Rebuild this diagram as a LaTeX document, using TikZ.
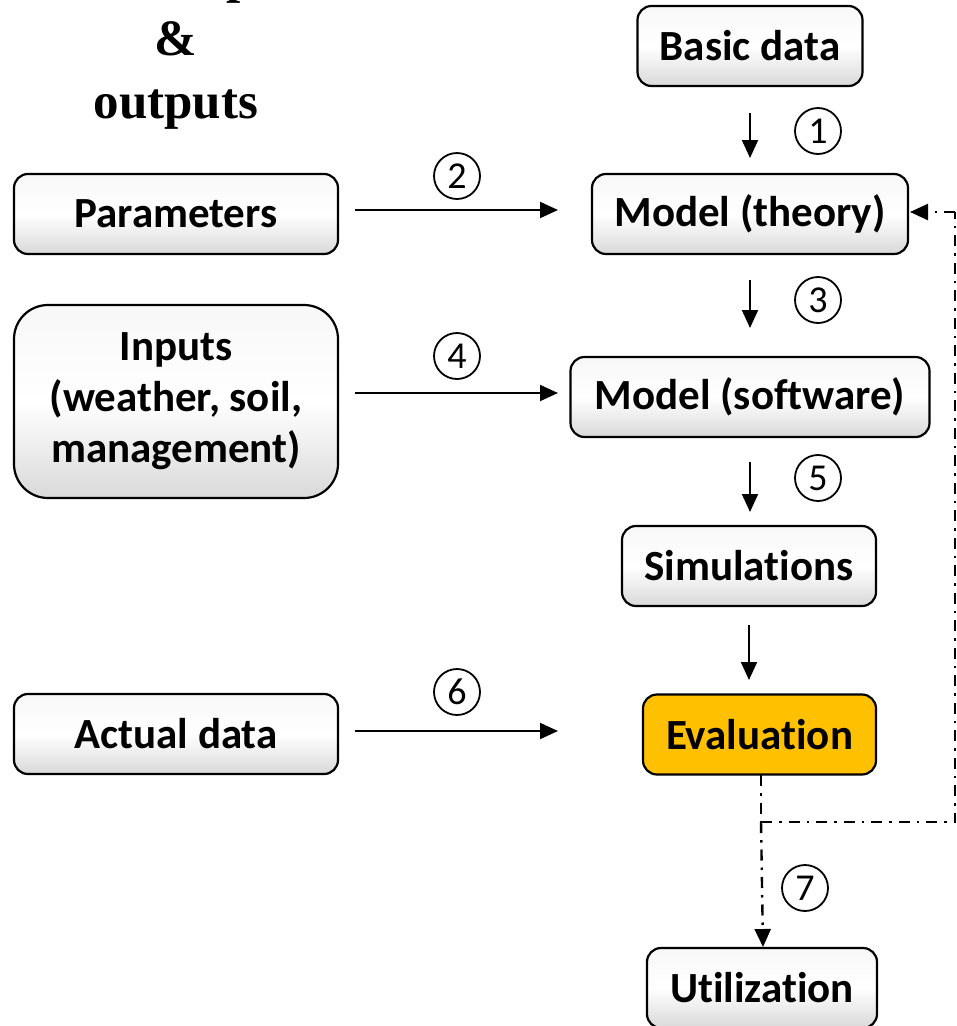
\documentclass[tikz,border=0pt]{standalone}
\usepackage{fontspec}
\setmainfont{Carlito}[Ligatures={NoCommon}]
\newfontfamily\titlefont{Liberation Serif}
\usetikzlibrary{arrows.meta}
\definecolor{evalorange}{HTML}{FFC000}
\tikzset{
  boxbase/.style={draw=black, line width=2.2pt, rounded corners=14pt, minimum height=80pt,
    font=\fontsize{43}{50}\selectfont\bfseries, inner sep=4pt},
  box/.style={boxbase, top color=gray!6, bottom color=gray!30, middle color=white},
  num/.style={draw=black, circle, line width=1.8pt, minimum size=46pt, inner sep=0pt,
    font=\fontsize{38}{38}\selectfont},
  tip/.style={-{Triangle[length=18pt,width=16pt]}},
  arr/.style={line width=2pt, tip},
  fb/.style={line width=2.4pt, dash pattern=on 11pt off 7pt on 2.5pt off 7pt},
  ttl/.style={font=\titlefont\fontsize{51}{60}\selectfont\bfseries, anchor=base, inner sep=0pt}
}
\begin{document}
\begin{tikzpicture}[x=1pt,y=-1pt]
\useasboundingbox (0,0) rectangle (957,1026);
% title (first line cut off by the page edge)
\node[ttl] (t1) at (176,-8) {Model inputs};
\node[ttl] (t2) at (176,55) {\&};
\node[ttl] (t3) at (176,118) {outputs};
% right column
\node[box, minimum width=225pt] (basic) at (750,46) {Basic data};
\node[box, minimum width=316pt] (theory) at (750,214) {Model (theory)};
\node[box, minimum width=359pt] (software) at (750,397) {Model (software)};
\node[box, minimum width=254pt] (sim) at (749,566) {Simulations};
\node[boxbase, minimum width=233pt, fill=evalorange] (eval) at (759.5,734.5) {Evaluation};
\node[box, minimum width=230pt] (util) at (762,988) {Utilization};
% left column
\node[box, minimum width=324pt] (param) at (176,214) {Parameters};
\node[box, minimum width=324pt, minimum height=193pt, rounded corners=34pt, align=center,
  font=\fontsize{43}{51}\selectfont\bfseries] (inputs) at (176,401.5) {Inputs\\(weather, soil,\\management)};
\node[box, minimum width=324pt] (actual) at (176,734) {Actual data};
% helper coordinates
\coordinate (a1s) at (750,113); \coordinate (a1e) at (750,158);
\coordinate (a3s) at (750,280); \coordinate (a3e) at (750,328);
\coordinate (a5s) at (750,462); \coordinate (a5e) at (750,512);
\coordinate (ase) at (749,625); \coordinate (aee) at (749,680);
\coordinate (a2s) at (355,210); \coordinate (a2e) at (558,210);
\coordinate (a4s) at (355,393); \coordinate (a4e) at (558,393);
\coordinate (a6s) at (355,731); \coordinate (a6e) at (558,731);
\coordinate (f0) at (761,775);
\coordinate (fj) at (761,822);
\coordinate (fc) at (955,822);
\coordinate (ft) at (955,212);
\coordinate (fe) at (910,212);
\coordinate (u7) at (763,947);
% arrows
\draw[arr] (a1s) -- (a1e);
\draw[arr] (a3s) -- (a3e);
\draw[arr] (a5s) -- (a5e);
\draw[arr] (ase) -- (aee);
\draw[arr] (a2s) -- (a2e);
\draw[arr] (a4s) -- (a4e);
\draw[arr] (a6s) -- (a6e);
% feedback / utilization (dash-dot)
\draw[fb] (f0) -- (fj);
\draw[fb, tip] (fj) -- (u7);
\draw[fb] (fj) -- (fc) -- (ft);
\draw[fb, tip] (ft) -- (fe);
% circled numbers
\node[num] (n1) at (818,131) {1};
\node[num] (n2) at (457,176) {2};
\node[num] (n3) at (818,300) {3};
\node[num] (n4) at (457,356) {4};
\node[num] (n5) at (818,478) {5};
\node[num] (n6) at (457,692) {6};
\node[num] (n7) at (805,888) {7};
\end{tikzpicture}
\end{document}
